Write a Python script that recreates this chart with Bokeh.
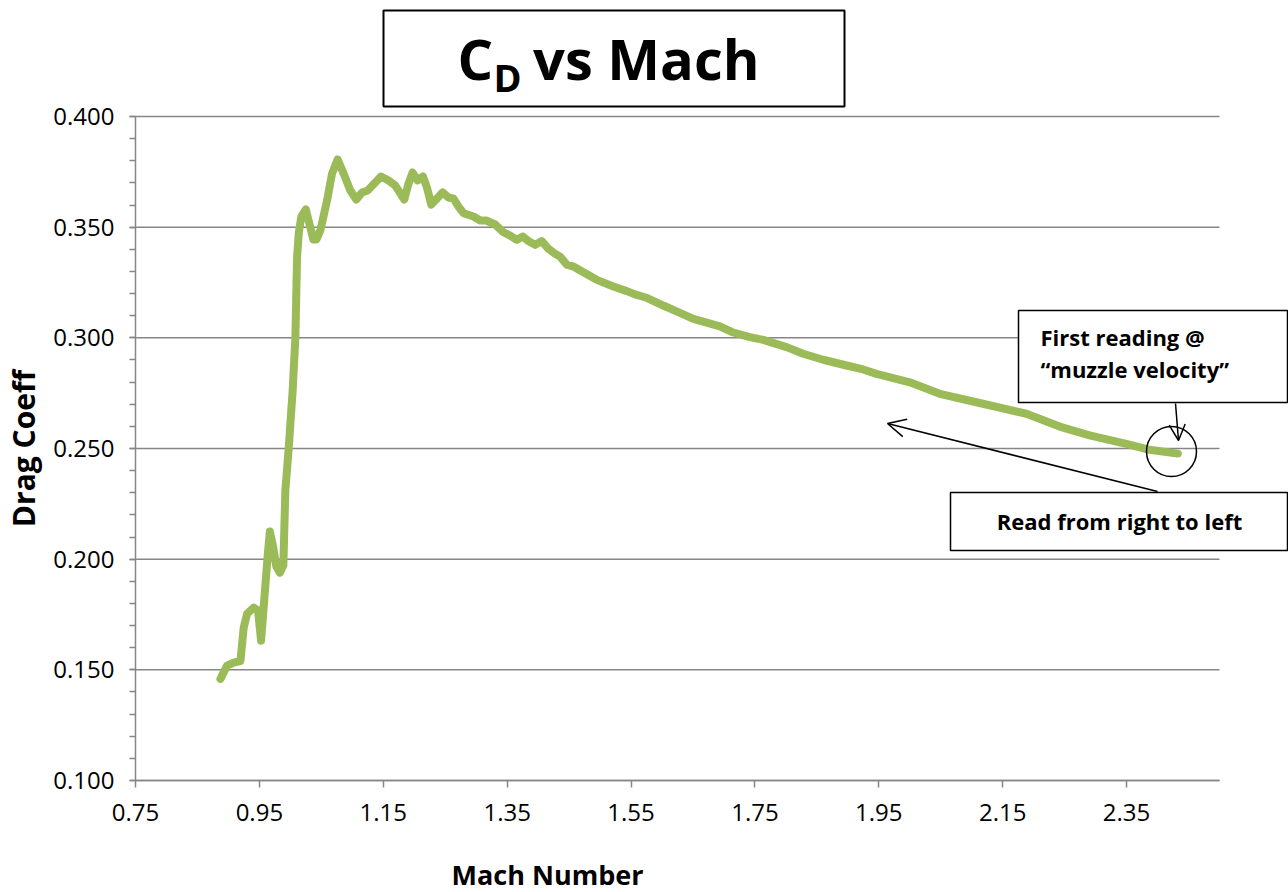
from bokeh.plotting import figure
from bokeh.models import (Label, BoxAnnotation, Arrow, OpenHead, FixedTicker,
                          NumeralTickFormatter, Range1d)
from bokeh.embed import file_html
from bokeh.resources import INLINE

# ---- data ----
mach = [0.8871, 0.8979, 0.9085, 0.9194, 0.9247, 0.9302, 0.9408, 0.9479, 0.9527,
        0.9585, 0.9634, 0.9669, 0.9718, 0.9774, 0.9831, 0.9887, 0.9919, 0.9973,
        1.0037, 1.0081, 1.0108, 1.0137, 1.0177, 1.0250, 1.0315, 1.0371, 1.0419,
        1.0484, 1.0592, 1.0673, 1.0763, 1.0860, 1.0968, 1.1065, 1.1156, 1.1247,
        1.1371, 1.1463, 1.1585, 1.1694, 1.1839, 1.1908, 1.1973, 1.2053, 1.2140,
        1.2205, 1.2274, 1.2366, 1.2456, 1.2553, 1.2634, 1.2715, 1.2795, 1.2956,
        1.3065, 1.3161, 1.3306, 1.3440, 1.3548, 1.3656, 1.3753, 1.3844, 1.3952,
        1.4060, 1.4166, 1.4274, 1.4355, 1.4463, 1.4569, 1.4731, 1.4947, 1.5215,
        1.5431, 1.5592, 1.5753, 1.6021, 1.6290, 1.6505, 1.6721, 1.6935, 1.7150,
        1.7419, 1.7634, 1.8011, 1.8279, 1.8602, 1.8979, 1.9247, 1.9463, 2.0000,
        2.0484, 2.1076, 2.1882, 2.2419, 2.2903, 2.3495, 2.3871, 2.4327]
cd = [0.1459, 0.1519, 0.1533, 0.1540, 0.1691, 0.1754, 0.1781, 0.1768, 0.1632,
      0.1840, 0.2016, 0.2125, 0.2061, 0.1967, 0.1939, 0.1971, 0.2310, 0.2500,
      0.2762, 0.3001, 0.3363, 0.3476, 0.3548, 0.3580, 0.3507, 0.3444, 0.3444,
      0.3485, 0.3620, 0.3742, 0.3806, 0.3742, 0.3666, 0.3625, 0.3657, 0.3666,
      0.3702, 0.3729, 0.3711, 0.3688, 0.3625, 0.3697, 0.3747, 0.3711, 0.3729,
      0.3679, 0.3602, 0.3629, 0.3657, 0.3634, 0.3629, 0.3593, 0.3563, 0.3548,
      0.3530, 0.3530, 0.3512, 0.3477, 0.3462, 0.3443, 0.3458, 0.3437, 0.3420,
      0.3437, 0.3402, 0.3380, 0.3367, 0.3331, 0.3322, 0.3296, 0.3262, 0.3232,
      0.3211, 0.3194, 0.3181, 0.3146, 0.3113, 0.3086, 0.3069, 0.3052, 0.3024,
      0.3003, 0.2991, 0.2958, 0.2928, 0.2901, 0.2875, 0.2857, 0.2837, 0.2799,
      0.2747, 0.2709, 0.2657, 0.2599, 0.2559, 0.2521, 0.2494, 0.2477]
x_ticks = [0.75, 0.95, 1.15, 1.35, 1.55, 1.75, 1.95, 2.15, 2.35]
y_ticks = [0.10, 0.15, 0.20, 0.25, 0.30, 0.35, 0.40]
y_minor = [round(0.10 + 0.01 * i, 2) for i in range(31)]
X_MIN, X_MAX = 0.75, 2.5
Y_MIN, Y_MAX = 0.10, 0.40

# ---- layout: the plotting area spans the whole canvas, axes are pinned ----
W, H = 1288, 892
AX_LEFT, AX_RIGHT, AX_TOP, AX_BOTTOM = 135, 1219, 116, 780   # pixel box of the axes
SX = (AX_RIGHT - AX_LEFT) / (X_MAX - X_MIN)
SY = (AX_BOTTOM - AX_TOP) / (Y_MAX - Y_MIN)


def X(px):
    return X_MIN + (px - AX_LEFT) / SX


def Y(py):
    return Y_MAX - (py - AX_TOP) / SY


FONT = "Open Sans"
AXIS_GRAY = "#868686"
GREEN = "#9BBB59"

p = figure(width=W, height=H, min_border=0,
           x_range=Range1d(X(0), X(W)), y_range=Range1d(Y(H), Y(0)),
           output_backend="svg", toolbar_location=None, tools="")
p.outline_line_color = None
p.background_fill_color = "white"
p.border_fill_color = "white"

# horizontal grid lines at the major y ticks, limited to the axes box
p.xgrid.visible = False
p.ygrid.visible = False
p.segment(x0=[X_MIN] * len(y_ticks), x1=[X_MAX] * len(y_ticks), y0=y_ticks, y1=y_ticks,
          line_color=AXIS_GRAY, line_width=1.5)

p.line(mach, cd, line_color=GREEN, line_width=8, line_join="round", line_cap="round")

# axes
p.xaxis.fixed_location = Y_MIN
p.yaxis.fixed_location = X_MIN
p.xaxis.bounds = (X_MIN, X_MAX)
p.yaxis.bounds = (Y_MIN, Y_MAX)
p.xaxis.ticker = FixedTicker(ticks=x_ticks)
p.yaxis.ticker = FixedTicker(ticks=y_ticks, minor_ticks=y_minor)
p.xaxis.formatter = NumeralTickFormatter(format="0.00")
p.yaxis.formatter = NumeralTickFormatter(format="0.000")
for ax in (p.xaxis[0], p.yaxis[0]):
    ax.axis_line_color = AXIS_GRAY
    ax.axis_line_width = 1.5
    ax.major_tick_line_color = AXIS_GRAY
    ax.major_tick_line_width = 1.5
    ax.minor_tick_line_color = AXIS_GRAY
    ax.minor_tick_line_width = 1.5
    ax.major_tick_in = 0
    ax.minor_tick_in = 0
    ax.major_label_text_font = FONT
    ax.major_label_text_font_size = "24px"
    ax.major_label_text_color = "black"
    ax.axis_label_text_font = FONT
    ax.axis_label_text_font_style = "bold"
    ax.axis_label_text_font_size = "30px"
    ax.axis_label_text_color = "black"
p.xaxis.major_tick_out = 7
p.xaxis.minor_tick_out = 0
p.xaxis.minor_tick_line_color = None
p.xaxis.major_label_standoff = 16
p.yaxis.major_tick_out = 6
p.yaxis.minor_tick_out = 6
p.yaxis.major_label_standoff = 15
p.yaxis.axis_label = "Drag Coeff"
p.yaxis.axis_label_standoff = 6

# x axis title (sits left of centre in the reference)
p.add_layout(Label(x=X(547), y=Y(874), text="Mach Number", text_align="center",
                   text_baseline="middle", text_font=FONT, text_font_style="bold",
                   text_font_size="27px", text_color="black"))

# title box: C_D vs Mach
p.add_layout(BoxAnnotation(left=X(383), right=X(844), bottom=Y(106), top=Y(10),
                           fill_color="white", fill_alpha=1.0,
                           line_color="black", line_width=2, line_alpha=1.0))
p.add_layout(Label(x=X(457), y=Y(57), text="C", text_font=FONT, text_font_style="bold",
                   text_font_size="56px", text_baseline="alphabetic", text_color="black"))
p.add_layout(Label(x=X(493), y=Y(76), text="D", text_font=FONT, text_font_style="bold",
                   text_font_size="38px", text_baseline="alphabetic", text_color="black"))
p.add_layout(Label(x=X(759), y=Y(57), text="vs Mach", text_font=FONT, text_font_style="bold",
                   text_font_size="56px", text_align="right", text_baseline="alphabetic",
                   text_color="black"))

# note boxes
p.add_layout(BoxAnnotation(left=X(1018), right=X(1287), bottom=Y(402), top=Y(310),
                           fill_color="white", fill_alpha=1.0,
                           line_color="black", line_width=1.5, line_alpha=1.0))
p.add_layout(Label(x=X(1040), y=Y(336), text="First reading @", text_font=FONT,
                   text_font_style="bold", text_font_size="22px", text_baseline="alphabetic",
                   text_color="black"))
p.add_layout(Label(x=X(1040), y=Y(368), text="\u201cmuzzle velocity\u201d", text_font=FONT,
                   text_font_style="bold", text_font_size="22px", text_baseline="alphabetic",
                   text_color="black"))
p.add_layout(BoxAnnotation(left=X(950), right=X(1287), bottom=Y(550), top=Y(492),
                           fill_color="white", fill_alpha=1.0,
                           line_color="black", line_width=1.5, line_alpha=1.0))
p.add_layout(Label(x=X(1119), y=Y(520), text="Read from right to left", text_font=FONT,
                   text_font_style="bold", text_font_size="22px", text_align="center",
                   text_baseline="alphabetic", text_color="black"))

# arrows and circle marking the first reading
p.add_layout(Arrow(end=OpenHead(size=18, line_width=1.5, line_color="black"),
                   x_start=X(1157), y_start=Y(491), x_end=X(887), y_end=Y(423),
                   line_width=1.5, line_color="black"))
p.add_layout(Arrow(end=OpenHead(size=16, line_width=1.5, line_color="black"),
                   x_start=X(1175), y_start=Y(403), x_end=X(1178), y_end=Y(440),
                   line_width=1.5, line_color="black"))
p.scatter(x=[X(1171)], y=[Y(451)], marker="circle", size=50, fill_color=None,
          line_color="black", line_width=1.5)

open("out.html", "w").write(file_html(p, INLINE))
